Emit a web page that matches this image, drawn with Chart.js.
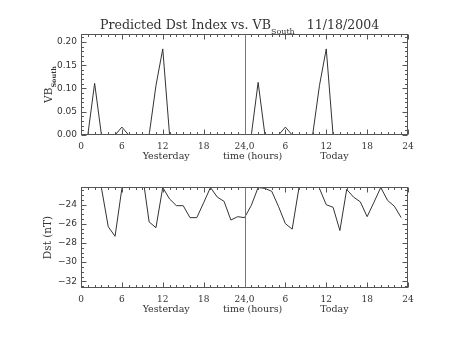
<!DOCTYPE html>
<html>
<head>
<meta charset="utf-8">
<script src="https://cdn.jsdelivr.net/npm/chart.js@4.4.1/dist/chart.umd.min.js"></script>
<style>
html, body { margin: 0; padding: 0; background: #fff; }
#wrap { position: relative; width: 453px; height: 340px; overflow: hidden; }
#vbChart { position: absolute; left: 0; top: 0; }
#dstChart { position: absolute; left: 0; top: 170px; }
#title { position: absolute; left: 100px; top: 17px; font: 12.6px "DejaVu Serif"; line-height: 15px; color: #333; white-space: pre; }
#title .sub { position: relative; top: 5px; font-size: 8px; }
</style>
</head>
<body>
<div id="wrap">
  <canvas id="vbChart" width="453" height="170"></canvas>
  <canvas id="dstChart" width="453" height="170"></canvas>
  <div id="title">Predicted Dst Index vs. VB<span class="sub">South</span>   11/18/2004</div>
</div>
<script>
// hours since start of yesterday
const hours = [0, 1, 2, 3, 4, 5, 6, 7, 8, 9, 10, 11, 12, 13, 14, 15, 16, 17, 18, 19, 20, 21, 22, 23,
               24, 25, 26, 27, 28, 29, 30, 31, 32, 33, 34, 35, 36, 37, 38, 39, 40, 41, 42, 43, 44, 45, 46, 47];

// VB south
const vbSouth = [0, 0, 0.111, 0, 0, 0, 0.017, 0, 0, 0, 0, 0.106, 0.185, 0, 0, 0, 0, 0, 0, 0, 0, 0, 0, 0,
                 0, 0, 0.113, 0, 0, 0, 0.017, 0, 0, 0, 0, 0.106, 0.185, 0, 0, 0, 0, 0, 0, 0, 0, 0, 0, 0];

// predicted Dst (nT), values above the top of the axis are clipped
const dst = [-19.5, -19.5, -20.5, -22.25, -26.3, -27.3, -22.3, -20.5, -20.5, -20.7, -25.8, -26.4,
             -22.2, -23.4, -24.1, -24.1, -25.35, -25.35, -23.8, -22.2, -23.2, -23.65, -25.6, -25.25,
             -25.35, -24.07, -22.2, -22.3, -22.6, -24.2, -25.98, -26.55, -22.2, -20.5, -21.0, -22.3,
             -24.0, -24.27, -26.7, -22.4, -23.2, -23.7, -25.25, -23.75, -22.2, -23.55, -24.16, -25.35];

// axis ticks
const xTicks = [0, 6, 12, 18, 24, 30, 36, 42, 48];
const xTickLabels = ['0', '6', '12', '18', '24,0', '6', '12', '18', '24'];
const vbTicks = [0, 0.05, 0.10, 0.15, 0.20];
const dstTicks = [-32, -30, -28, -26, -24];

const dayLabels = ['Yesterday', 'time (hours)', 'Today'];
const dayLabelAt = [12.5, 25.2, 37.2];

const ink = '#333';
const frameColor = '#555';

// IDL style frame: box, inward ticks on all sides, midnight line, axis texts
const idlFrame = {
  id: 'idlFrame',
  afterDatasetsDraw(chart, args, opts) {
    const ctx = chart.ctx;
    const a = chart.chartArea;
    const x = chart.scales.x, y = chart.scales.y;
    const seg = (x1, y1, x2, y2) => { ctx.beginPath(); ctx.moveTo(x1, y1); ctx.lineTo(x2, y2); ctx.stroke(); };
    const L = Math.round(a.left) + 0.5, R = Math.round(a.right) - 0.5;
    const T = Math.round(a.top) + 0.5, B = Math.round(a.bottom) - 0.5;

    ctx.save();
    ctx.strokeStyle = frameColor;
    ctx.lineWidth = 1;
    ctx.strokeRect(L, T, R - L, B - T);

    for (let h = 0; h <= 48; h++) {
      const px = Math.round(x.getPixelForValue(h)) + 0.5;
      const len = h % 6 === 0 ? 5 : 2.5;
      seg(px, B, px, B - len);
      seg(px, T, px, T + len);
    }
    const step = opts.minor;
    for (let v = Math.ceil(y.min / step) * step; v <= y.max + 1e-9; v += step) {
      const py = Math.round(y.getPixelForValue(v)) + 0.5;
      const major = y.ticks.some(t => Math.abs(t.value - v) < step / 10);
      const len = major ? 5 : 2.5;
      seg(L, py, L + len, py);
      seg(R, py, R - len, py);
    }

    ctx.strokeStyle = '#777';
    const mid = Math.round(x.getPixelForValue(24)) + 0.5;
    seg(mid, T, mid, B);

    // day labels under the axis
    ctx.fillStyle = ink;
    ctx.font = '9.5px "DejaVu Serif"';
    ctx.textAlign = 'center';
    ctx.textBaseline = 'alphabetic';
    dayLabels.forEach((s, i) => ctx.fillText(s, x.getPixelForValue(dayLabelAt[i]), a.bottom + 24));

    // rotated y title with optional subscript
    ctx.translate(opts.titleX, (a.top + a.bottom) / 2);
    ctx.rotate(-Math.PI / 2);
    ctx.textAlign = 'left';
    ctx.font = '10.5px "DejaVu Serif"';
    const w1 = ctx.measureText(opts.title).width;
    let w2 = 0;
    if (opts.sub) {
      ctx.font = 'bold 6.5px "DejaVu Serif"';
      w2 = ctx.measureText(opts.sub).width;
    }
    const x0 = -(w1 + w2) / 2;
    ctx.font = '10.5px "DejaVu Serif"';
    ctx.fillText(opts.title, x0, 0);
    if (opts.sub) {
      ctx.font = 'bold 6.5px "DejaVu Serif"';
      ctx.fillText(opts.sub, x0 + w1, 3.5);
    }
    ctx.restore();
  }
};

function xScale(height) {
  return {
    type: 'linear', min: 0, max: 48,
    afterBuildTicks: s => { s.ticks = xTicks.map(v => ({ value: v })); },
    afterFit: s => { s.height = height; },
    ticks: {
      callback: (v, i) => xTickLabels[i],
      autoSkip: false, maxRotation: 0, padding: 6,
      color: ink, font: { family: 'DejaVu Serif', size: 9 }
    },
    grid: { display: false, drawTicks: false },
    border: { display: false }
  };
}

function yScale(min, max, tickList, fmt) {
  return {
    min: min, max: max,
    afterBuildTicks: s => { s.ticks = tickList.map(v => ({ value: v })); },
    afterFit: s => { s.width = 81; },
    ticks: {
      callback: fmt, padding: 4,
      color: ink, font: { family: 'DejaVu Sans', size: 9 }
    },
    grid: { display: false, drawTicks: false },
    border: { display: false }
  };
}

const lineStyle = { borderColor: '#333', borderWidth: 1, pointRadius: 0, tension: 0, fill: false };

new Chart(document.getElementById('vbChart'), {
  type: 'line',
  data: { datasets: [Object.assign({ data: hours.map((h, i) => ({ x: h, y: vbSouth[i] })) }, lineStyle)] },
  options: {
    responsive: false, animation: false, events: [],
    layout: { padding: { top: 34, right: 45, left: 0, bottom: 0 } },
    plugins: { legend: { display: false }, tooltip: { enabled: false },
               idlFrame: { minor: 0.01, title: 'VB', sub: 'South', titleX: 52 } },
    scales: { x: xScale(35), y: yScale(0, 0.217, vbTicks, v => v.toFixed(2)) }
  },
  plugins: [idlFrame]
});

new Chart(document.getElementById('dstChart'), {
  type: 'line',
  data: { datasets: [Object.assign({ data: hours.map((h, i) => ({ x: h, y: dst[i] })) }, lineStyle)] },
  options: {
    responsive: false, animation: false, events: [],
    layout: { padding: { top: 17, right: 45, left: 0, bottom: 0 } },
    plugins: { legend: { display: false }, tooltip: { enabled: false },
               idlFrame: { minor: 0.5, title: 'Dst (nT)', titleX: 51 } },
    scales: { x: xScale(52), y: yScale(-32.7, -22.15, dstTicks, v => String(v).replace('-', '\u2212')) }
  },
  plugins: [idlFrame]
});
</script>
</body>
</html>
